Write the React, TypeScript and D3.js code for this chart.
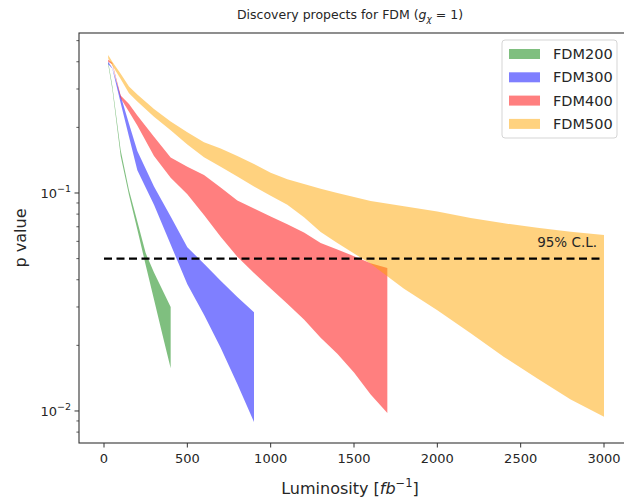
import React from "react";
import * as d3 from "d3";

const W = 624;
const H = 501;

// ---- data ----
const lumi200 = [25, 50, 100, 150, 200, 250, 300, 350, 400];
const up200 = [0.4, 0.31, 0.157, 0.103, 0.074, 0.053, 0.0432, 0.036, 0.03];
const lo200 = [0.39, 0.3, 0.148, 0.098, 0.068, 0.0468, 0.0325, 0.0225, 0.0157];

const lumi300 = [25, 50, 100, 150, 200, 300, 400, 500, 600, 700, 800, 900];
const up300 = [0.4, 0.374, 0.279, 0.208, 0.156, 0.107, 0.078, 0.0564, 0.0473, 0.0396, 0.0333, 0.0284];
const lo300 = [0.39, 0.373, 0.259, 0.181, 0.127, 0.0883, 0.058, 0.0381, 0.0276, 0.0195, 0.0133, 0.0089];

const lumi400 = [25, 50, 100, 150, 200, 300, 400, 500, 600, 700, 800, 900, 1000, 1100, 1200, 1300, 1400, 1500, 1600, 1700];
const up400 = [0.41, 0.395, 0.28, 0.256, 0.227, 0.181, 0.1455, 0.132, 0.121, 0.106, 0.0924, 0.0848, 0.078, 0.0719, 0.0658, 0.0589, 0.0551, 0.0513, 0.0476, 0.0453];
const lo400 = [0.4, 0.39, 0.272, 0.236, 0.204, 0.148, 0.1175, 0.0986, 0.0793, 0.063, 0.051, 0.043, 0.0365, 0.031, 0.0263, 0.0217, 0.0183, 0.015, 0.0119, 0.0098];

const lumi500 = [25, 50, 100, 150, 200, 300, 400, 500, 600, 700, 800, 900, 1000, 1100, 1200, 1300, 1400, 1600, 1800, 2000, 2200, 2400, 2600, 2800, 3000];
const up500 = [0.43, 0.4, 0.352, 0.308, 0.283, 0.243, 0.213, 0.19, 0.171, 0.16, 0.148, 0.136, 0.124, 0.1156, 0.11, 0.1047, 0.1, 0.092, 0.0869, 0.0822, 0.0767, 0.0726, 0.0692, 0.0664, 0.0642];
const lo500 = [0.415, 0.385, 0.333, 0.287, 0.263, 0.224, 0.194, 0.167, 0.146, 0.132, 0.119, 0.107, 0.0972, 0.0883, 0.0773, 0.0662, 0.0589, 0.0473, 0.0364, 0.029, 0.0227, 0.0177, 0.0141, 0.0113, 0.0094];

const seriesNames = ["FDM200", "FDM300", "FDM400", "FDM500"];
const seriesColors = ["green", "blue", "red", "orange"];

const clLevel = 0.05;
const clRange = [0, 3000];
const clLabel = "95% C.L.";

const xTicks = [0, 500, 1000, 1500, 2000, 2500, 3000];
const yMajor = [0.01, 0.1];

// ---- layout ----
const left = 79;
const top = 33;
const bottom = 443;
const right = 629;

export default function App() {
  const x = d3.scaleLinear().domain([-150, 3150]).range([left, right]);
  const y = d3.scaleLog().domain([0.00713, 0.542]).range([bottom, top]);

  const series = [
    { l: lumi200, u: up200, d: lo200 },
    { l: lumi300, u: up300, d: lo300 },
    { l: lumi400, u: up400, d: lo400 },
    { l: lumi500, u: up500, d: lo500 },
  ];

  const paths = series.map((s) => {
    const idx = s.l.map((_, i) => i);
    return d3
      .area<number>()
      .x((i) => x(s.l[i]))
      .y0((i) => y(s.d[i]))
      .y1((i) => y(s.u[i]))
      .curve(d3.curveLinear)(idx) as string;
  });

  const minor: number[] = [];
  [0.001, 0.01, 0.1].forEach((dec) => {
    for (let m = 2; m <= 9; m++) {
      const v = dec * m;
      if (v > 0.00713 && v < 0.542) minor.push(v);
    }
  });

  const font = "DejaVu Sans, sans-serif";
  const tc = "#262626";

  return (
    <svg width={W} height={H} style={{ position: "absolute", left: 0, top: 0, background: "#fff" }}>
      <defs>
        <clipPath id="plotclip">
          <rect x={left} y={top} width={right - left} height={bottom - top} />
        </clipPath>
      </defs>
      <g clipPath="url(#plotclip)">
        {paths.map((p, i) => (
          <path key={i} d={p} fill={seriesColors[i]} fillOpacity={0.5} stroke="none" />
        ))}
        <line
          x1={x(clRange[0])}
          x2={x(clRange[1])}
          y1={y(clLevel)}
          y2={y(clLevel)}
          stroke="black"
          strokeWidth={2.2}
          strokeDasharray="8,4.5"
        />
      </g>
      <text x={x(clRange[1]) - 7} y={y(clLevel) - 12} textAnchor="end" fontFamily={font} fontSize={13.5} fill={tc}>
        {clLabel}
      </text>

      {/* frame */}
      <rect x={left} y={top} width={right - left} height={bottom - top} fill="none" stroke="#333" strokeWidth={1.1} />

      {/* x ticks */}
      {xTicks.map((t) => (
        <g key={t}>
          <line x1={x(t)} x2={x(t)} y1={bottom} y2={bottom + 4.5} stroke="#333" strokeWidth={1} />
          <text x={x(t)} y={bottom + 20} textAnchor="middle" fontFamily={font} fontSize={13} fill={tc}>
            {t}
          </text>
        </g>
      ))}

      {/* y ticks */}
      {yMajor.map((t) => (
        <g key={t}>
          <line x1={left - 4.5} x2={left} y1={y(t)} y2={y(t)} stroke="#333" strokeWidth={1} />
          <text x={left - 8} y={y(t) + 5} textAnchor="end" fontFamily={font} fontSize={13} fill={tc}>
            10
            <tspan dy={-6} fontSize={9.5}>
              {"\u2212" + Math.round(-Math.log10(t))}
            </tspan>
          </text>
        </g>
      ))}
      {minor.map((t) => (
        <line key={t} x1={left - 2.6} x2={left} y1={y(t)} y2={y(t)} stroke="#333" strokeWidth={0.8} />
      ))}

      {/* axis labels */}
      <text x={(left + right) / 2 - 4} y={494} textAnchor="middle" fontFamily={font} fontSize={16} fill={tc}>
        Luminosity [<tspan fontStyle="italic">fb</tspan>
        <tspan dy={-7} fontSize={11.5}>{"\u22121"}</tspan>
        <tspan dy={7}>]</tspan>
      </text>
      <text
        transform={`translate(26,${(top + bottom) / 2}) rotate(-90)`}
        textAnchor="middle"
        fontFamily={font}
        fontSize={16}
        fill={tc}
      >
        p value
      </text>

      {/* title */}
      <text x={(left + right) / 2 - 4} y={19} textAnchor="middle" fontFamily={font} fontSize={12.5} fill={tc}>
        Discovery propects for FDM (<tspan fontStyle="italic">g</tspan>
        <tspan dy={3} fontSize={9} fontStyle="italic">χ</tspan>
        <tspan dy={-3}> = 1)</tspan>
      </text>

      {/* legend */}
      <g>
        <rect x={502} y={40} width={115} height={98} rx={3} fill="#fff" fillOpacity={0.8} stroke="#d5d5d5" strokeWidth={1} />
        {seriesNames.map((n, i) => (
          <g key={n} transform={`translate(509,${54 + i * 23.3})`}>
            <rect x={0} y={-5} width={31} height={10} fill={seriesColors[i]} fillOpacity={0.5} />
            <text x={44} y={5} fontFamily={font} fontSize={14.5} fill={tc}>
              {n}
            </text>
          </g>
        ))}
      </g>
    </svg>
  );
}
